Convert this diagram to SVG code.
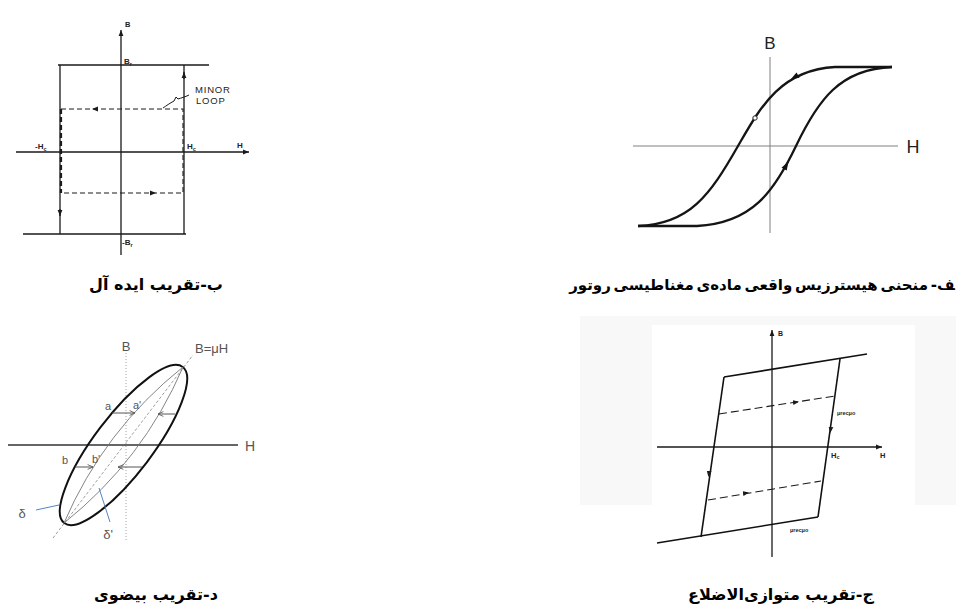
<svg xmlns="http://www.w3.org/2000/svg" width="956" height="611" viewBox="0 0 956 611">
<style>
 .ln{stroke:#1a1a1a;stroke-width:1.3;fill:none}
 .thk{stroke:#111;stroke-width:1.6;fill:none}
 .dsh{stroke:#1a1a1a;stroke-width:1.1;fill:none;stroke-dasharray:5 3}
 .ax{stroke:#808080;stroke-width:1;fill:none}
 .curve{stroke:#151515;stroke-width:2.3;fill:none}
 .gry{stroke:#777;stroke-width:0.9;fill:none}
 .arr{stroke:#555;stroke-width:1;fill:none}
 .blue{stroke:#4f86c6;stroke-width:1;fill:none}
 .sm{font-family:"Liberation Sans",Arial,sans-serif;font-weight:bold;fill:#222}
 .md{font-family:"Liberation Sans",Arial,sans-serif;fill:#555}
 .big{font-family:"Liberation Sans",Arial,sans-serif;fill:#222}
 .cap{font-family:"DejaVu Sans",sans-serif;font-weight:bold;font-size:16px;fill:#000}
</style>
<defs>
 <marker id="tri" viewBox="0 0 10 10" refX="10" refY="5" markerWidth="6" markerHeight="6" markerUnits="userSpaceOnUse" orient="auto">
  <path d="M0,1 L10,5 L0,9 z" fill="#1a1a1a"/>
 </marker>
 <marker id="open" viewBox="0 0 10 10" refX="10" refY="5" markerWidth="6" markerHeight="6" markerUnits="userSpaceOnUse" orient="auto">
  <path d="M1,1 L10,5 L1,9" fill="none" stroke="#555" stroke-width="1.4"/>
 </marker>
</defs>

<rect width="956" height="611" fill="#ffffff"/>

<!-- faint source background -->
<g id="backgrounds" fill="#f8f8f8">
 <path d="M580,316 H956 V505 H915 V325 H652 V505 H580 Z"/>
</g>

<!-- b: ideal approximation -->
<g id="panel-ideal">
 <line class="ln" x1="121" y1="255" x2="121" y2="30" marker-end="url(#tri)"/>
 <line class="ln" x1="16" y1="152" x2="249" y2="152" marker-end="url(#tri)"/>
 <line class="ln" x1="58" y1="65" x2="209" y2="65"/>
 <line class="ln" x1="23" y1="234" x2="186" y2="234"/>
 <line class="ln" x1="60" y1="65" x2="60" y2="234"/>
 <line class="ln" x1="184" y1="65" x2="184" y2="234"/>
 <path class="dsh" d="M61,109 H183 V193 H61"/>
 <line class="dsh" x1="61" y1="109" x2="61" y2="193" style="stroke-width:2.2"/>
 <path class="ln" d="M184,79 L184,72" marker-end="url(#tri)"/>
 <path class="ln" d="M60,209 L60,216" marker-end="url(#tri)"/>
 <path class="ln" d="M99,109 L92,109" marker-end="url(#tri)" style="stroke:none"/>
 <path class="ln" d="M149,193 L156,193" marker-end="url(#tri)" style="stroke:none"/>
 <path class="ln" d="M189,95 C185,97 181,98 178,99 L176,97 L174,101 C170,103 166,106 163,108" style="stroke-width:1"/>
 <text class="sm" x="125" y="27" font-size="7.5">B</text>
 <text class="sm" x="124" y="64" font-size="8">B<tspan font-size="5.5" dy="1.5">r</tspan></text>
 <text class="sm" x="122" y="245" font-size="8">-B<tspan font-size="5.5" dy="1.5">r</tspan></text>
 <text class="sm" x="35" y="149" font-size="8">-H<tspan font-size="5.5" dy="1.5">c</tspan></text>
 <text class="sm" x="187" y="149" font-size="8">H<tspan font-size="5.5" dy="1.5">c</tspan></text>
 <text class="sm" x="237" y="148" font-size="8">H</text>
 <text class="big" x="195" y="93" font-size="9.5" letter-spacing="0.8">MINOR</text>
 <text class="big" x="196" y="104" font-size="9.5" letter-spacing="0.8">LOOP</text>
</g>

<!-- a: actual hysteresis -->
<g id="panel-actual">
 <line class="ax" x1="770" y1="57" x2="770" y2="233"/>
 <line class="ax" x1="633" y1="146" x2="898" y2="146"/>
 <path class="curve" d="M638,226 C690,224 710,195 738,146 C760,108 780,70 835,67 L892,67"/>
 <path class="curve" d="M892,67 C840,69 818,100 796,146 C774,192 752,223 697,226 L638,226"/>
 <path d="M791,79 L799.5,77.7 L796.5,72.5 Z" fill="#111"/>
 <path d="M788.5,161.5 L786.7,170.6 L781.5,167.7 Z" fill="#111"/>
 <circle cx="755" cy="118" r="2.2" fill="#fff" stroke="#222" stroke-width="1"/>
 <text class="big" x="770" y="49" font-size="17" text-anchor="middle">B</text>
 <text class="big" x="913" y="152.5" font-size="18" text-anchor="middle">H</text>
</g>

<!-- d: elliptical approximation -->
<g id="panel-ellipse">
 <line x1="126" y1="353" x2="126" y2="541" stroke="#999" stroke-width="0.9" stroke-dasharray="1 2"/>
 <line x1="53" y1="538" x2="193" y2="355" stroke="#888" stroke-width="0.8" stroke-dasharray="3 2"/>
 <line x1="8" y1="445" x2="238" y2="445" stroke="#666" stroke-width="1.8"/>
 <ellipse cx="123.5" cy="445" rx="98" ry="29" transform="rotate(-52.8 123.5 445)" fill="none" stroke="#111" stroke-width="2"/>
 <path class="gry" d="M64,523 Q104,430 183,367"/>
 <path class="gry" d="M64,523 Q143,460 183,367"/>
 <line class="arr" x1="112" y1="413" x2="135" y2="413" marker-end="url(#open)"/>
 <line class="arr" x1="175" y1="414" x2="158" y2="414" marker-end="url(#open)"/>
 <line class="arr" x1="75" y1="467" x2="93" y2="467" marker-end="url(#open)"/>
 <line class="arr" x1="142" y1="467" x2="118" y2="467" marker-end="url(#open)"/>
 <line class="blue" x1="36" y1="510" x2="59" y2="505"/>
 <line class="blue" x1="110" y1="522" x2="99" y2="488"/>
 <text class="md" x="126" y="351" font-size="13" text-anchor="middle">B</text>
 <text class="md" x="195" y="353" font-size="13">B=μH</text>
 <text class="md" x="250" y="451" font-size="14" text-anchor="middle">H</text>
 <text class="md" x="108" y="410" font-size="11" text-anchor="middle">a</text>
 <text class="md" x="137" y="409" font-size="11" text-anchor="middle">a'</text>
 <text class="md" x="65" y="464" font-size="11" text-anchor="middle">b</text>
 <text class="md" x="96" y="463" font-size="11" text-anchor="middle">b'</text>
 <text class="md" x="22" y="518" font-size="13" text-anchor="middle">δ</text>
 <text class="md" x="108" y="539" font-size="13" text-anchor="middle">δ'</text>
</g>

<!-- c: parallelogram approximation -->
<g id="panel-parallelogram">
 <line class="ln" x1="772" y1="557" x2="772" y2="330" marker-end="url(#tri)"/>
 <line class="ln" x1="657" y1="447" x2="882" y2="447" marker-end="url(#tri)"/>
 <line class="thk" x1="724" y1="377" x2="867" y2="354"/>
 <line class="thk" x1="724" y1="377" x2="701" y2="537"/>
 <line class="thk" x1="840" y1="359" x2="818" y2="517"/>
 <line class="thk" x1="657" y1="543" x2="818" y2="517"/>
 <line class="dsh" x1="719" y1="414" x2="835" y2="396" style="stroke-dasharray:8 4"/>
 <line class="dsh" x1="708" y1="500" x2="821" y2="481" style="stroke-dasharray:8 4"/>
 <path d="M831,427 L830.2,433" class="ln" marker-end="url(#tri)" style="stroke:none"/>
 <path d="M709.2,471 L708.4,477" class="ln" marker-end="url(#tri)" style="stroke:none"/>
 <path d="M793,402.6 L799,401.7" class="ln" marker-end="url(#tri)" style="stroke:none"/>
 <path d="M743,493.6 L749,492.6" class="ln" marker-end="url(#tri)" style="stroke:none"/>
 <text class="sm" x="778" y="336" font-size="7">B</text>
 <text class="sm" x="880" y="458" font-size="7.5">H</text>
 <text class="sm" x="831" y="458" font-size="7.5">H<tspan font-size="5.5" dy="1">c</tspan></text>
 <text class="sm" x="837" y="415" font-size="5.5">μrecμo</text>
 <text class="sm" x="790" y="532" font-size="5.5">μrecμo</text>
</g>

<!-- captions -->
<g id="captions">
 <text class="cap" x="156" y="290" text-anchor="middle" direction="rtl">ب-تقریب ایده آل</text>
 <text class="cap" x="762" y="290" text-anchor="middle" direction="rtl" style="font-size:15px;word-spacing:-2.5px">&#x200D;ف- منحنی هیسترزیس واقعی ماده&#x200C;ی مغناطیسی روتور</text>
 <text class="cap" x="156" y="600" text-anchor="middle" direction="rtl">د-تقریب بیضوی</text>
 <text class="cap" x="781" y="600" text-anchor="middle" direction="rtl">ج-تقریب متوازی&#x200C;الاضلاع</text>
</g>
</svg>
